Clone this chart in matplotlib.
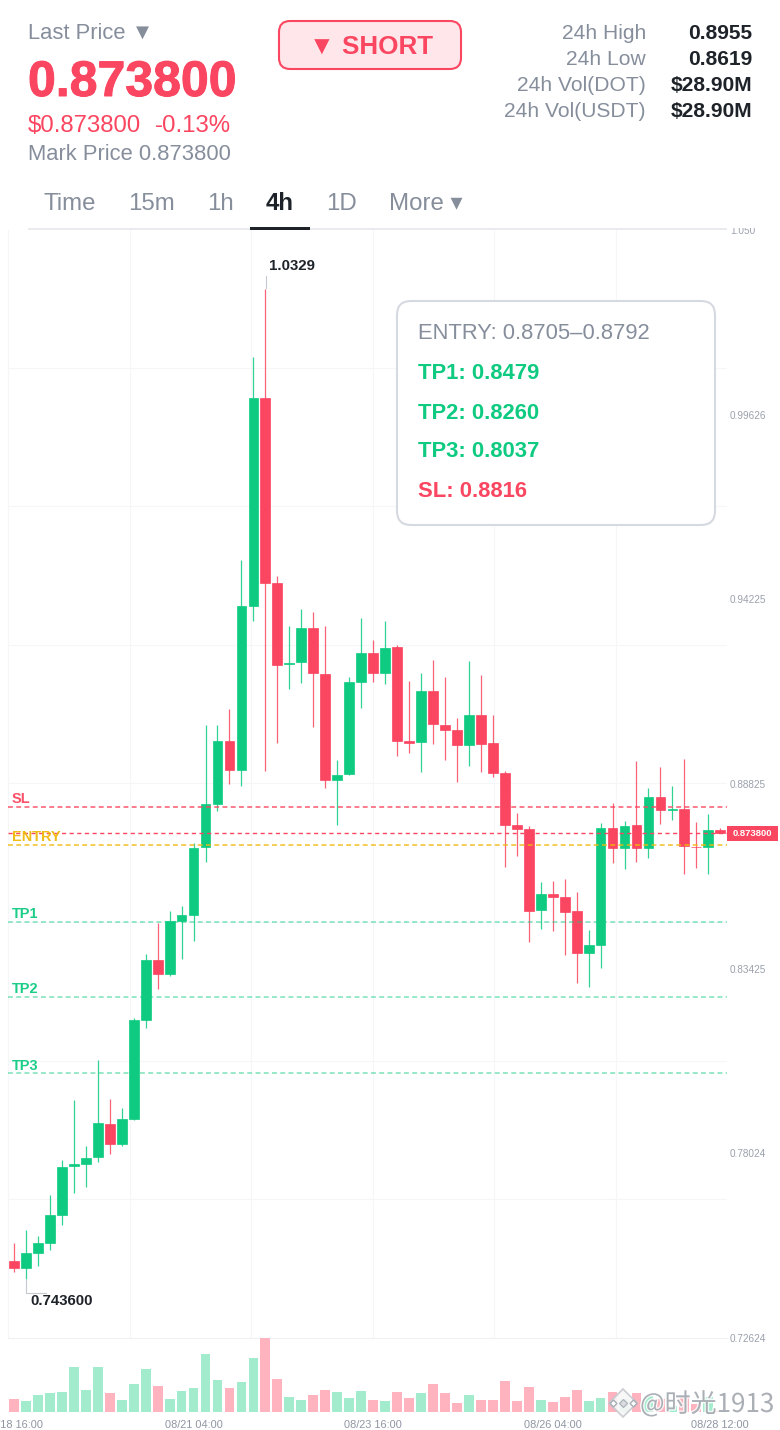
import matplotlib
matplotlib.use('Agg')
import matplotlib.pyplot as plt
from matplotlib.patches import Rectangle, FancyBboxPatch
import matplotlib.patheffects as pe

plt.rcParams['font.family'] = ['Liberation Sans', 'DejaVu Sans']

# candles, oldest first
opens = [0.7487, 0.7467, 0.7511, 0.7541, 0.7622, 0.7764, 0.7771, 0.7792, 0.7888, 0.7830,
         0.7903, 0.8192, 0.8368, 0.8327, 0.8483, 0.8499, 0.8697, 0.8824, 0.9008, 0.8923,
         0.9403, 1.0012, 0.9470, 0.9232, 0.9238, 0.9339, 0.9204, 0.8894, 0.8912, 0.9181,
         0.9266, 0.9207, 0.9283, 0.9008, 0.9005, 0.9155, 0.9056, 0.9040, 0.8997, 0.9084,
         0.9002, 0.8915, 0.8763, 0.8751, 0.8514, 0.8561, 0.8552, 0.8511, 0.8388, 0.8412,
         0.8754, 0.8695, 0.8763, 0.8695, 0.8844, 0.8806, 0.8810, 0.8698, 0.8699, 0.8749]
closes = [0.7467, 0.7511, 0.7541, 0.7622, 0.7762, 0.7771, 0.7789, 0.7891, 0.7830, 0.7903,
          0.8192, 0.8368, 0.8327, 0.8483, 0.8499, 0.8695, 0.8823, 0.9008, 0.8923, 0.9403,
          1.0012, 0.9470, 0.9231, 0.9236, 0.9339, 0.9207, 0.8894, 0.8910, 0.9181, 0.9266,
          0.9207, 0.9281, 0.9008, 0.9003, 0.9155, 0.9058, 0.9040, 0.8997, 0.9084, 0.8999,
          0.8915, 0.8763, 0.8751, 0.8511, 0.8562, 0.8552, 0.8509, 0.8388, 0.8412, 0.8754,
          0.8695, 0.8760, 0.8695, 0.8844, 0.8806, 0.8809, 0.8701, 0.8697, 0.8749, 0.8738]
highs = [0.7540, 0.7578, 0.7560, 0.7680, 0.7783, 0.7958, 0.7824, 0.8075, 0.7961, 0.7935,
         0.8198, 0.8385, 0.8476, 0.8511, 0.8526, 0.8710, 0.9055, 0.9056, 0.9102, 0.9538,
         1.0132, 1.0329, 0.9492, 0.9345, 0.9394, 0.9386, 0.9345, 0.8953, 0.9194, 0.9367,
         0.9305, 0.9358, 0.9289, 0.9185, 0.9207, 0.9245, 0.9195, 0.9076, 0.9241, 0.9201,
         0.9084, 0.8921, 0.8798, 0.8760, 0.8597, 0.8599, 0.8605, 0.8568, 0.8455, 0.8768,
         0.8828, 0.8774, 0.8951, 0.8871, 0.8932, 0.8877, 0.8956, 0.8771, 0.8795, 0.8755]
lows = [0.7455, 0.7436, 0.7473, 0.7519, 0.7594, 0.7685, 0.7704, 0.7778, 0.7800, 0.7824,
        0.7900, 0.8169, 0.8283, 0.8322, 0.8371, 0.8422, 0.8655, 0.8804, 0.8881, 0.8877,
        0.9358, 0.8921, 0.9003, 0.9160, 0.9178, 0.9050, 0.8871, 0.8763, 0.8909, 0.9105,
        0.9181, 0.9175, 0.8965, 0.8974, 0.8918, 0.8999, 0.8953, 0.8888, 0.8935, 0.8918,
        0.8903, 0.8640, 0.8672, 0.8420, 0.8458, 0.8453, 0.8382, 0.8301, 0.8290, 0.8344,
        0.8651, 0.8634, 0.8654, 0.8667, 0.8765, 0.8777, 0.8619, 0.8637, 0.8619, 0.8738]
volumes = [4.0, 3.3, 5.1, 5.7, 6.0, 13.5, 6.5, 13.5, 5.7, 3.6,
           8.5, 12.9, 7.7, 4.0, 6.3, 7.2, 17.4, 9.5, 7.2, 9.1,
           16.3, 22.2, 9.9, 4.4, 3.6, 5.0, 6.5, 6.0, 4.3, 6.2,
           3.6, 3.3, 6.0, 4.2, 5.6, 8.4, 5.7, 2.8, 5.1, 3.6,
           3.6, 9.3, 3.4, 7.4, 3.5, 3.1, 4.4, 6.5, 3.2, 4.2,
           6.1, 4.0, 5.8, 4.8, 3.8, 1.8, 4.8, 2.4, 4.4, 0.4]

price_ticks = [1.05025, 0.99626, 0.94225, 0.88825, 0.83425, 0.78024, 0.72624]
price_labels = ['1.050', '0.99626', '0.94225', '0.88825', '0.83425', '0.78024', '0.72624']
grid_prices = [1.0099, 0.9696, 0.9289, 0.8885, 0.8479, 0.8072, 0.7669]
grid_candles = [9.69, 19.8, 30.0, 40.1, 50.3]
time_ticks = [0, 15, 30, 45, 59]
time_labels = ['08/18 16:00', '08/21 04:00', '08/23 16:00', '08/26 04:00', '08/28 12:00']

levels = ['SL', 'ENTRY', 'TP1', 'TP2', 'TP3']
level_prices = [0.8816, 0.8705, 0.8479, 0.8260, 0.8037]
last_price = 0.8738
high_price = 1.0329
low_price = 0.7436

GREEN = '#0ECB81'
RED = '#FA4660'
YELLOW = '#F0B90B'
GRAY = '#868E9C'
DARK = '#1E2329'
GRID = '#F5F6F8'
level_colors = [RED, YELLOW, GREEN, GREEN, GREEN]

W, H = 780, 1430


def px(size):
    # font size given in pixels of the 100 dpi picture
    return size * 0.72


def panel(left, top, right, bottom):
    return [left / W, 1 - bottom / H, (right - left) / W, (bottom - top) / H]


fig = plt.figure(figsize=(W / 100, H / 100), dpi=100, facecolor='white')
ax = fig.add_axes(panel(8, 230, 727, 1338))
ax_vol = fig.add_axes(panel(8, 1338, 727, 1412))

#price panel
x = range(len(opens))
for i in x:
    color = GREEN if closes[i] >= opens[i] else RED
    ax.vlines(i, lows[i], highs[i], color=color, linewidth=0.9, alpha=0.85, zorder=3)
    ax.bar(i, abs(closes[i] - opens[i]), bottom=min(opens[i], closes[i]), width=0.82,
           color=color, edgecolor=color, linewidth=0.5, zorder=4)

ax.set_xlim(-0.5, 59.56)
ax.set_ylim(0.72624, 1.05025)
ax.yaxis.tick_right()
ax.set_yticks(price_ticks)
ax.set_yticklabels(price_labels, fontsize=px(10), color='#9AA1AC')
ax.set_yticks(grid_prices, minor=True)
ax.set_xticks(grid_candles, minor=True)
ax.set_xticks([])
ax.tick_params(axis='both', which='both', length=0)
ax.tick_params(axis='y', which='major', pad=2)
ax.grid(True, which='minor', color=GRID, linewidth=0.8, zorder=0)
for name in ['top', 'right']:
    ax.spines[name].set_visible(False)
ax.spines['left'].set_color(GRID)
ax.spines['bottom'].set_color('#EEF0F2')

#trade levels
for name, price, color in zip(levels, level_prices, level_colors):
    tp = name.startswith('TP')
    ax.axhline(price, color=color, linewidth=1.1, alpha=0.55 if tp else 0.9,
               dashes=(3.2, 2.2), zorder=5)
    ax.annotate(name, (0.0056, price), xycoords=ax.get_yaxis_transform(), xytext=(0, 3.5),
                textcoords='offset pixels', color=color, fontsize=px(14.5), fontweight='bold',
                va='baseline', ha='left', zorder=6, alpha=0.95)
ax.axhline(last_price, color=RED, linewidth=1.0, dashes=(3, 2.5), zorder=5)

#price tag on the right
tr = ax.get_yaxis_transform()
ax.add_patch(Rectangle((1.0, last_price - 0.0023), 51 / 719, 0.0046, transform=tr, clip_on=False,
                       facecolor=RED, edgecolor='none', zorder=6))
ax.text(1.0355, last_price, '0.873800', transform=tr, color='white', fontsize=px(9.5),
        fontweight='bold', ha='center', va='center', zorder=7)

#volume panel
vol_colors = ['#A2EBCD' if c >= o else '#FEB3BF' for o, c in zip(opens, closes)]
ax_vol.bar(list(x), volumes, width=0.82, color=vol_colors)
ax_vol.set_xlim(-0.5, 59.56)
ax_vol.set_ylim(0, 22.2)
ax_vol.set_yticks([])
ax_vol.set_xticks(time_ticks)
ax_vol.set_xticklabels(time_labels, fontsize=px(11), color='#8F96A3')
ax_vol.tick_params(axis='x', length=0, pad=5.7)
for name in ax_vol.spines:
    ax_vol.spines[name].set_visible(False)
ax_vol.patch.set_alpha(0)

#everything else sits on a layer measured in pixels
top = fig.add_axes([0, 0, 1, 1], zorder=5)
top.set_xlim(0, W)
top.set_ylim(H, 0)
top.axis('off')
top.patch.set_alpha(0)
top.add_patch(Rectangle((0, 0), W, 228, facecolor='white', edgecolor='none'))

top.text(28, 39, 'Last Price ▼', fontsize=px(22), color=GRAY)
top.text(28, 96, '0.873800', fontsize=px(50), color=RED, fontweight='bold',
         path_effects=[pe.withStroke(linewidth=0.7, foreground=RED)])
top.text(28, 132, '$0.873800', fontsize=px(24), color=RED)
top.text(155, 132, '-0.13%', fontsize=px(24), color=RED)
top.text(28, 160, 'Mark Price 0.873800', fontsize=px(22), color=GRAY)

top.add_patch(FancyBboxPatch((279, 21), 182, 48, boxstyle='round,pad=0,rounding_size=11',
                             facecolor='#FFE6EA', edgecolor=RED, linewidth=1.5))
top.text(371, 54, '▼ SHORT', fontsize=px(26), color=RED, fontweight='bold', ha='center')

stat_names = ['24h High', '24h Low', '24h Vol(DOT)', '24h Vol(USDT)']
stat_values = ['0.8955', '0.8619', '$28.90M', '$28.90M']
for name, value, y in zip(stat_names, stat_values, [39, 65, 91, 117]):
    top.text(646, y, name, fontsize=px(21), color=GRAY, ha='right')
    top.text(752, y, value, fontsize=px(21), color=DARK, fontweight='bold', ha='right')

tabs = ['Time', '15m', '1h', '4h', '1D', 'More ▾']
tab_x = [44, 128, 207, 266, 326, 389]
for name, tx in zip(tabs, tab_x):
    active = name == '4h'
    top.text(tx, 210, name, fontsize=px(24), color=DARK if active else GRAY,
             fontweight='bold' if active else 'normal')
top.add_patch(Rectangle((28, 228), 699, 2, facecolor='#E9EBEE', edgecolor='none'))
top.add_patch(Rectangle((250, 227), 60, 3, facecolor=DARK, edgecolor='none'))

#info box
top.add_patch(FancyBboxPatch((397, 301), 318, 224, boxstyle='round,pad=0,rounding_size=14',
                             facecolor='white', edgecolor='#D5D9E0', linewidth=1.5))
top.text(418, 339, 'ENTRY: 0.8705–0.8792', fontsize=px(22), color=GRAY)
box_lines = ['TP1: 0.8479', 'TP2: 0.8260', 'TP3: 0.8037', 'SL: 0.8816']
box_colors = [GREEN, GREEN, GREEN, RED]
for line, color, y in zip(box_lines, box_colors, [379, 419, 457, 497]):
    top.text(418, y, line, fontsize=px(22), color=color, fontweight='bold')

#high and low labels
top.plot([265.5, 265.5], [276, 288], color='#C4C8D0', linewidth=0.8)
top.text(269, 270, '1.0329', fontsize=px(15), color=DARK, fontweight='bold')
top.plot([26, 26, 46], [1280, 1293, 1293], color='#C4C8D0', linewidth=0.8)
top.text(30, 1305, '0.743600', fontsize=px(15), color=DARK, fontweight='bold')

#watermark
halo = [pe.withStroke(linewidth=2, foreground='white')]
top.plot([623], [1403], marker='D', markersize=14, markerfacecolor='#F7F7F8',
         markeredgecolor='#C5C8CE', markeredgewidth=1.2, alpha=0.9)
top.plot([613, 633], [1403, 1403], linestyle='none', marker='D', markersize=3.5,
         markerfacecolor='white', markeredgecolor='#A8ACB4', markeredgewidth=1)
top.plot([623], [1403], linestyle='none', marker='D', markersize=4.5,
         markerfacecolor='#DADCE0', markeredgecolor='#A8ACB4', markeredgewidth=0.8)
top.text(640, 1412, '@时光1913', fontsize=px(26), color='#9EA3AB', alpha=0.85,
         family=['Noto Sans CJK SC', 'DejaVu Sans'], path_effects=halo)

plt.savefig('out.png', dpi=100)
